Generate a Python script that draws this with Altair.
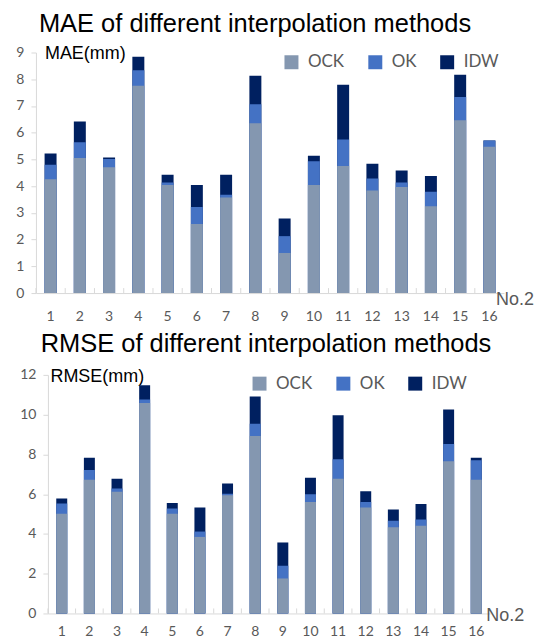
import altair as alt
import pandas as pd

nos = list(range(1, 17))
methods = ["OCK", "OK", "IDW"]
colors = ["#8497B0", "#4472C4", "#002060"]

mae_ock = [4.26, 5.05, 4.71, 7.76, 4.04, 2.58, 3.58, 6.35, 1.50, 4.04, 4.75, 3.84, 3.97, 3.25, 6.47, 5.47]
mae_ok = [4.80, 5.64, 5.02, 8.34, 4.14, 3.22, 3.68, 7.06, 2.13, 4.93, 5.75, 4.29, 4.14, 3.79, 7.34, 5.71]
mae_idw = [5.22, 6.42, 5.07, 8.84, 4.43, 4.04, 4.43, 8.13, 2.79, 5.14, 7.79, 4.84, 4.59, 4.38, 8.17, 5.71]

rmse_ock = [5.01, 6.72, 6.12, 10.59, 5.01, 3.85, 5.95, 8.93, 1.76, 5.61, 6.77, 5.33, 4.34, 4.41, 7.66, 6.72]
rmse_ok = [5.53, 7.21, 6.28, 10.76, 5.28, 4.12, 6.02, 9.54, 2.40, 6.00, 7.76, 5.61, 4.66, 4.73, 8.53, 7.71]
rmse_idw = [5.78, 7.83, 6.77, 11.48, 5.55, 5.33, 6.54, 10.91, 3.57, 6.82, 9.97, 6.15, 5.23, 5.50, 10.26, 7.83]

GRAY = "#595959"
LINE = "#D9D9D9"
LABEL_FONT = "Lato"
TITLE_FONT = "Liberation Sans"


def long_df(ock, ok, idw):
    rows = []
    # drawing order: IDW behind, then OK, then OCK in front
    for name, vals in (("IDW", idw), ("OK", ok), ("OCK", ock)):
        for n, v in zip(nos, vals):
            rows.append({"No": n, "method": name, "value": v})
    return pd.DataFrame(rows)


def panel(df, title, tsize, toffset, ytitle, ymax, ystep, W, H, shift, barsize, title_dx,
          xlp, ytx, yty, xtx, xty, lx, ly):
    x_scale = alt.Scale(paddingInner=0, paddingOuter=0)
    if shift:
        x_scale = alt.Scale(paddingInner=0, paddingOuter=0, range=[shift, W])
    x_enc = alt.X(
        "No:O",
        scale=x_scale,
        axis=alt.Axis(
            labelAngle=0, ticks=False, domainColor=LINE, domainWidth=1,
            labelFont=LABEL_FONT, labelFontSize=14, labelColor=GRAY, labelPadding=xlp,
            title="No.2", titleX=xtx, titleY=xty, titleAlign="left",
            titleBaseline="alphabetic", titleFont=TITLE_FONT, titleFontSize=18,
            titleFontWeight="normal", titleColor=GRAY,
        ),
    )
    bars = alt.Chart(df).mark_bar(size=barsize).encode(
        x=x_enc,
        y=alt.Y(
            "value:Q",
            stack=None,
            scale=alt.Scale(domain=[0, ymax], nice=False),
            axis=alt.Axis(
                values=list(range(0, ymax + 1, ystep)), grid=False, offset=-shift,
                domainColor=LINE, tickColor=LINE, tickSize=5,
                labelFont=LABEL_FONT, labelFontSize=14, labelColor=GRAY, labelPadding=7,
                title=ytitle, titleAngle=0, titleX=ytx, titleY=yty, titleAlign="left",
                titleBaseline="alphabetic", titleFont=TITLE_FONT, titleFontSize=18,
                titleFontWeight="normal", titleColor="black",
            ),
        ),
        color=alt.Color(
            "method:N",
            scale=alt.Scale(domain=methods, range=colors),
            legend=alt.Legend(
                title=None, orient="none", legendX=lx, legendY=ly, direction="horizontal",
                symbolType="square", symbolSize=196, symbolStrokeWidth=0,
                labelFont=LABEL_FONT, labelFontSize=17, labelColor=GRAY, labelOffset=8,
                columnPadding=22, padding=0,
            ),
        ),
    )
    ticks = alt.Chart(pd.DataFrame({"No": nos})).mark_rule(color=LINE, strokeWidth=1).encode(
        x=alt.X("No:O", bandPosition=0),
        y=alt.value(H - 5),
        y2=alt.value(H),
    )
    return alt.layer(bars, ticks).properties(
        width=W, height=H,
        title=alt.TitleParams(
            title, font=TITLE_FONT, fontSize=tsize, fontWeight="normal", color="black",
            anchor="middle", frame="group", dx=title_dx, offset=toffset, baseline="alphabetic",
        ),
    )


mae = panel(long_df(mae_ock, mae_ok, mae_idw), "MAE of different interpolation methods", 25.5, -13,
            "MAE(mm)", 9, 1, 469, 241, 0, 12, -15, 16, 8.5, 6, 460.5, 11, 247.5, 1)
rmse = panel(long_df(rmse_ock, rmse_ok, rmse_idw), "RMSE of different interpolation methods", 25.5, -10,
             "RMSE(mm)", 12, 2, 455, 239, 12, 11, 3, 11, 2, 7, 450.7, 7.3, 215.5, 0)

chart = alt.vconcat(mae, rmse, spacing=9).resolve_scale(color="independent").resolve_legend(
    color="independent"
).properties(
    padding={"left": 7, "top": 3, "right": 0, "bottom": 0}
).configure_view(stroke=None)

chart.save("out.html", embed_options={"renderer": "svg", "actions": False})
